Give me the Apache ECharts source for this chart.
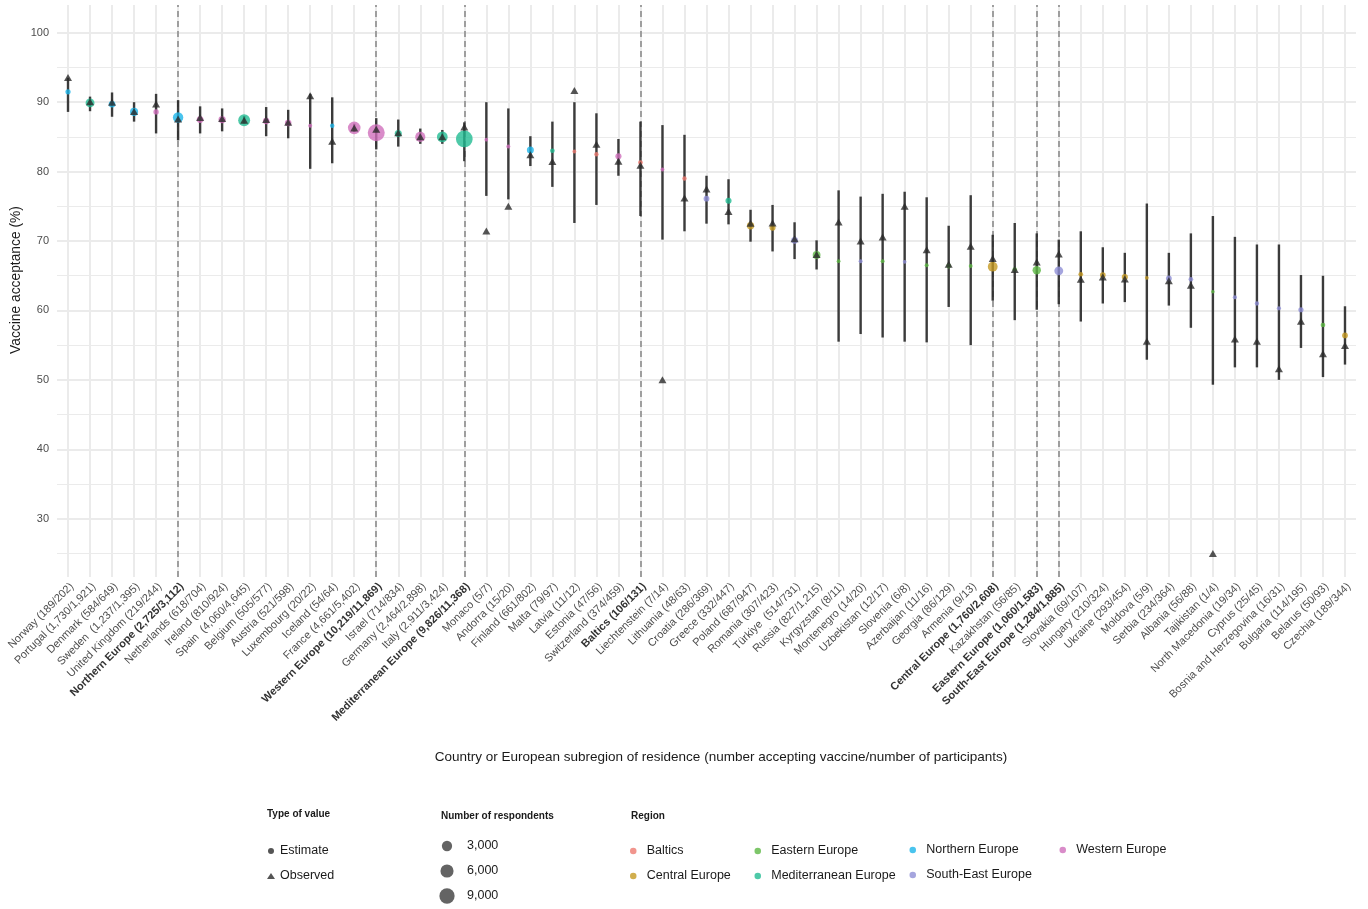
<!DOCTYPE html>
<html><head><meta charset="utf-8">
<script src="https://cdn.jsdelivr.net/npm/echarts@6/dist/echarts.min.js"></script>
<style>html,body{margin:0;padding:0;background:#fff}#c{width:1368px;height:909px}</style>
</head><body><div id="c"></div>
<script>
const categories = ['Norway (189/202)','Portugal (1,730/1,921)','Denmark (584/649)','Sweden  (1,237/1,395)','United Kingdom (219/244)','Northern Europe (2,725/3,112)','Netherlands (618/704)','Ireland (810/924)','Spain  (4,060/4,645)','Belgium (505/577)','Austria (521/598)','Luxembourg (20/22)','Iceland (54/64)','France (4,661/5,402)','Western Europe (10,219/11,869)','Israel (714/834)','Germany (2,464/2,898)','Italy (2,911/3,424)','Mediterranean Europe (9,826/11,368)','Monaco (5/7)','Andorra (15/20)','Finland (661/802)','Malta (79/97)','Latvia (11/12)','Estonia (47/56)','Switzerland (374/459)','Baltics (106/131)','Liechtenstein (7/14)','Lithuania (48/63)','Croatia (286/369)','Greece (332/447)','Poland (687/947)','Romania (307/423)','Türkiye  (514/731)','Russia (827/1,215)','Kyrgyzstan (8/11)','Montenegro (14/20)','Uzbekistan (12/17)','Slovenia (6/8)','Azerbaijan (11/16)','Georgia (86/129)','Armenia (9/13)','Central Europe (1,760/2,608)','Kazakhstan (56/85)','Eastern Europe (1,060/1,583)','South-East Europe (1,284/1,885)','Slovakia (69/107)','Hungary (210/324)','Ukraine (293/454)','Moldova (5/9)','Serbia (234/364)','Albania (56/88)','Tajikistan (1/4)','North Macedonia (19/34)','Cyprus (25/45)','Bosnia and Herzegovina (16/31)','Bulgaria (114/195)','Belarus (50/93)','Czechia (189/344)'];
const subregionLabels = ['Northern Europe (2,725/3,112)','Western Europe (10,219/11,869)','Mediterranean Europe (9,826/11,368)','Baltics (106/131)','Central Europe (1,760/2,608)','Eastern Europe (1,060/1,583)','South-East Europe (1,284/1,885)'];
const regionOf = ['Northern Europe','Mediterranean Europe','Northern Europe','Northern Europe','Western Europe','Northern Europe','Western Europe','Western Europe','Mediterranean Europe','Western Europe','Western Europe','Western Europe','Northern Europe','Western Europe','Western Europe','Mediterranean Europe','Western Europe','Mediterranean Europe','Mediterranean Europe','Western Europe','Western Europe','Northern Europe','Mediterranean Europe','Baltics','Baltics','Western Europe','Baltics','Western Europe','Baltics','South-East Europe','Mediterranean Europe','Central Europe','Central Europe','South-East Europe','Eastern Europe','Eastern Europe','South-East Europe','Eastern Europe','South-East Europe','Eastern Europe','Eastern Europe','Eastern Europe','Central Europe','Eastern Europe','Eastern Europe','South-East Europe','Central Europe','Central Europe','Central Europe','Central Europe','South-East Europe','South-East Europe','Eastern Europe','South-East Europe','South-East Europe','South-East Europe','South-East Europe','Eastern Europe','Central Europe'];
const participants = [202,1921,649,1395,244,3112,704,924,4645,577,598,22,64,5402,11869,834,2898,3424,11368,7,20,802,97,12,56,459,131,14,63,369,447,947,423,731,1215,11,20,17,8,16,129,13,2608,85,1583,1885,107,324,454,9,364,88,4,34,45,31,195,93,344];
const estimate = [91.5,89.9,89.7,88.6,88.6,87.8,87.5,87.5,87.4,87.3,87.0,86.6,86.6,86.3,85.6,85.5,85.0,85.0,84.7,84.6,83.6,83.1,83.0,82.9,82.5,82.2,81.3,80.3,79.0,76.1,75.8,72.2,71.9,70.1,68.0,67.1,67.1,67.1,67.0,66.5,66.4,66.4,66.3,65.9,65.8,65.7,65.2,65.1,64.8,64.7,64.6,64.5,62.7,61.9,61.0,60.3,60.1,57.9,56.4];
const ciLow = [88.6,88.7,87.9,87.2,85.5,84.5,85.5,85.8,86.9,85.1,84.8,80.4,81.2,85.7,83.2,83.6,84.0,84.0,81.5,76.5,76.0,80.8,77.8,72.6,75.2,79.4,73.6,70.2,71.4,72.5,72.4,69.9,68.5,67.4,65.9,55.5,56.6,56.1,55.5,55.4,60.5,55.0,61.4,58.6,60.1,60.9,58.4,61.0,61.2,52.9,60.7,57.5,49.3,51.8,51.8,50.0,54.6,50.4,52.2];
const ciHigh = [93.5,90.8,91.4,90.0,91.2,90.3,89.4,89.1,88.0,89.3,88.9,91.2,90.7,86.9,87.7,87.5,86.2,86.0,87.1,90.0,89.1,85.1,87.2,90.0,88.4,84.7,87.2,86.7,85.3,79.4,78.9,74.5,75.2,72.7,70.1,77.3,76.4,76.8,77.1,76.3,72.2,76.6,70.9,72.6,71.1,70.2,71.4,69.1,68.3,75.4,68.3,71.1,73.6,70.6,69.5,69.5,65.1,65.0,60.6];
const observed = [93.56,90.06,89.98,88.67,89.75,87.56,87.78,87.66,87.41,87.52,87.12,90.91,84.38,86.28,86.10,85.61,85.02,85.02,86.44,71.43,75.00,82.42,81.44,91.67,83.93,81.48,80.92,50.00,76.19,77.51,74.27,72.55,72.58,70.31,68.07,72.73,70.00,70.59,75.00,68.75,66.67,69.23,67.48,65.88,66.96,68.12,64.49,64.81,64.54,55.56,64.29,63.64,25.00,55.88,55.56,51.61,58.46,53.76,54.94];
const yTicks = [30,40,50,60,70,80,90,100];
const yMinorTicks = [25,35,45,55,65,75,85,95];
const regionNames = ['Baltics','Central Europe','Eastern Europe','Mediterranean Europe','Northern Europe','South-East Europe','Western Europe'];
const regionColors = ['#ee7a70','#c69a22','#5cb843','#22bb92','#1db5ea','#8f8ed6','#d06fbc'];
const sizeBreaks = [3000,6000,9000];
const sizeBreakLabels = ['3,000','6,000','9,000'];

const FONT = 'Liberation Sans, Arial, Helvetica, sans-serif';
const nMin = Math.min(...participants), nMax = Math.max(...participants);
function dotSize(n){ return 3.5 + 13.5*Math.sqrt(Math.max(0,(n-nMin)/(nMax-nMin))); }

const chart = echarts.init(document.getElementById('c'), null, {renderer:'canvas'});

const gridLines = [];
yMinorTicks.forEach(v => gridLines.push({yAxis:v, lineStyle:{color:'#ebebeb', width:1, type:'solid'}}));
yTicks.forEach(v => gridLines.push({yAxis:v, lineStyle:{color:'#ebebeb', width:2, type:'solid'}}));
categories.forEach(c => gridLines.push({xAxis:c, lineStyle:{color:'#ebebeb', width:2, type:'solid'}}));
subregionLabels.forEach(c => gridLines.push({xAxis:c, lineStyle:{color:'#8c8c8c', width:1.6, type:[6,4]}}));

const series = [];
series.push({
  type:'line', name:'_grid', data:[], z:1, silent:true, animation:false,
  markLine:{silent:true, z:1, symbol:['none','none'], label:{show:false}, animation:false, data:gridLines}
});
series.push({
  type:'custom', name:'_ci', z:2, silent:true, animation:false,
  data: categories.map((c,i)=>[i, ciLow[i], ciHigh[i]]),
  encode:{x:0, y:[1,2]},
  renderItem:function(params, api){
    const p1 = api.coord([api.value(0), api.value(1)]);
    const p2 = api.coord([api.value(0), api.value(2)]);
    const w = 2.4;
    return {type:'rect', shape:{x:p2[0]-w/2, y:p2[1], width:w, height:p1[1]-p2[1]},
      style:{fill:'#2b2b2b', opacity:0.92}};
  }
});
regionNames.forEach((r,k)=>{
  const pts = [];
  categories.forEach((c,i)=>{ if(regionOf[i]===r) pts.push([i, estimate[i], participants[i]]); });
  series.push({
    type:'scatter', name:r, z:3, animation:false,
    data:pts, symbol:'circle',
    symbolSize:function(v){ return dotSize(v[2]); },
    itemStyle:{color:regionColors[k], opacity:0.8}
  });
});
series.push({
  type:'scatter', name:'Observed', z:4, animation:false,
  data: categories.map((c,i)=>[i, observed[i]]),
  symbol:'triangle', symbolSize:[8,7],
  itemStyle:{color:'#2a2a2a'}
});
series.push({type:'scatter', name:'Estimate', data:[], itemStyle:{color:'#2a2a2a'}});

const legendText = {fontSize:12.5, color:'#1a1a1a', fontFamily:FONT};
const regionCols = [['Baltics','Central Europe'],['Eastern Europe','Mediterranean Europe'],['Northern Europe','South-East Europe'],['Western Europe']];
const regionColX = [625, 749.5, 904.5, 1054.5];
const legends = [{
  orient:'vertical', left:262, top:839, itemWidth:8, itemHeight:6, itemGap:11,
  selectedMode:false, textStyle:Object.assign({lineHeight:14}, legendText),
  data:[{name:'Estimate', icon:'circle'},{name:'Observed', icon:'triangle'}]
}];
regionCols.forEach((col,j)=>{
  legends.push({
    orient:'vertical', left:regionColX[j], top: j>=2 ? 838 : 839, itemWidth:17, itemHeight:6.5, itemGap:11,
    selectedMode:false, textStyle:Object.assign({lineHeight:14}, legendText),
    data: col.map(n=>({name:n, icon:'circle', itemStyle:{opacity:0.8}}))
  });
});

const graphics = [
  {type:'text', left:267, top:809, style:{text:'Type of value', font:'bold 10px '+FONT, fill:'#1a1a1a'}},
  {type:'text', left:441, top:811, style:{text:'Number of respondents', font:'bold 10px '+FONT, fill:'#1a1a1a'}},
  {type:'text', left:631, top:811, style:{text:'Region', font:'bold 10px '+FONT, fill:'#1a1a1a'}},
  {type:'text', x:721, y:757, style:{text:'Country or European subregion of residence (number accepting vaccine/number of participants)', font:'13.5px '+FONT, fill:'#1a1a1a', align:'center', verticalAlign:'middle'}},
  {type:'text', x:16, y:280, rotation:Math.PI/2, style:{text:'Vaccine acceptance (%)', font:'13.8px '+FONT, fill:'#1a1a1a', align:'center', verticalAlign:'middle'}}
];
sizeBreaks.forEach((b,i)=>{
  const yc = 846 + i*25;
  graphics.push({type:'circle', shape:{cx:447, cy:yc, r:dotSize(b)/2}, style:{fill:'rgba(40,40,40,0.72)'}});
  graphics.push({type:'text', x:467, y:yc, style:{text:sizeBreakLabels[i], font:'12.5px '+FONT, fill:'#1a1a1a', verticalAlign:'middle'}});
});

chart.setOption({
  animation:false,
  backgroundColor:'#ffffff',
  grid:{left:57, right:12, top:5, bottom:332, containLabel:false, outerBoundsMode:'none'},
  xAxis:{
    type:'category', data:categories, boundaryGap:true,
    axisLine:{show:false}, axisTick:{show:false}, splitLine:{show:false},
    axisLabel:{
      interval:0, rotate:45, margin:4, fontSize:11, color:'#4d4d4d', fontFamily:FONT, verticalAlign:'top',
      formatter:function(v){ return subregionLabels.indexOf(v)>=0 ? '{b|'+v+'}' : v; },
      rich:{b:{fontWeight:'bold', fontSize:11, color:'#333', fontFamily:FONT}}
    }
  },
  yAxis:{
    type:'value', min:21.6, max:104.0, splitNumber:8,
    axisLine:{show:false}, axisTick:{show:false}, splitLine:{show:false},
    axisLabel:{customValues:yTicks, fontSize:11, color:'#4d4d4d', fontFamily:FONT, margin:8}
  },
  legend:legends,
  graphic:graphics,
  series:series
});
</script></body></html>
